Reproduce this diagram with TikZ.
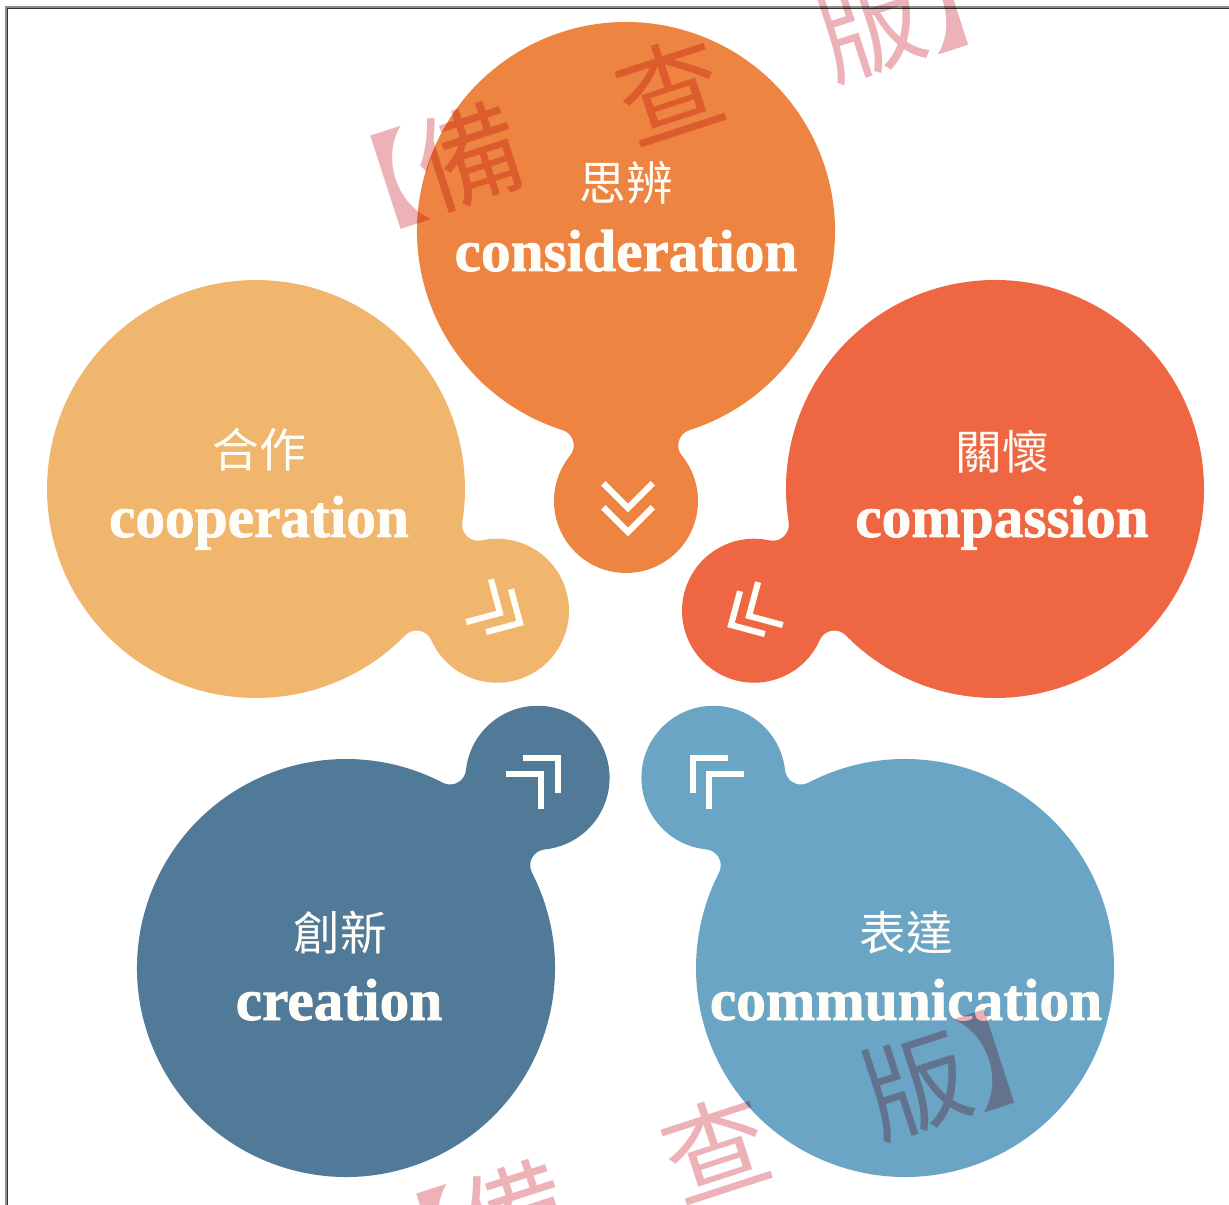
\documentclass[tikz,border=0pt]{standalone}
\usepackage{fontspec}
\setmainfont{Liberation Serif}
\newfontfamily\enfont[BoldFeatures={FakeBold=1.3}]{Liberation Serif}
\newfontfamily\cjk{Noto Sans CJK TC}
\usetikzlibrary{calc}
\definecolor{cTop}{RGB}{238,132,65}
\definecolor{cLeft}{RGB}{240,182,110}
\definecolor{cRight}{RGB}{238,102,66}
\definecolor{cBL}{RGB}{81,121,152}
\definecolor{cBR}{RGB}{107,165,197}
\definecolor{wmcol}{RGB}{236,178,184}
\definecolor{txtcol}{RGB}{255,253,248}
\definecolor{framedark}{RGB}{50,50,50}
\definecolor{framelight}{RGB}{140,140,140}
% blob: big circle (R=209) + small circle (r=72, d=270) joined by fillets (f=16)
\newcommand{\myblob}[4]{%
  \fill[#4] ($(#1,#2)+({#3+17.65}:209)$)
    arc[start angle={#3+17.65}, end angle={#3+342.35}, radius=209]
    arc[start angle={#3+162.35}, end angle={#3+50.83}, radius=16]
    arc[start angle={#3-129.17}, end angle={#3+129.17}, radius=72]
    arc[start angle={#3-50.83}, end angle={#3-162.35}, radius=16] -- cycle;}
\newcommand{\mychev}[3]{%
  \draw[chev] ($(#1,#2)+({#3+135}:35)$) -- (#1,#2) -- ($(#1,#2)+({#3-135}:35)$);}
\tikzset{
  chev/.style={draw=txtcol, line width=4.6pt, line cap=butt, line join=miter},
  entxt/.style={text=txtcol, anchor=base, inner sep=0pt, font=\enfont\bfseries\fontsize{44.5}{44.5}\selectfont},
  zhtxt/.style={text=txtcol, anchor=center, inner sep=0pt, font=\cjk\fontsize{35}{35}\selectfont},
  wmk/.style={text=wmcol, inner sep=0pt, rotate=18, font=\cjk\fontsize{79}{79}\selectfont}
}
\begin{document}
\begin{tikzpicture}[x=0.75pt, y=-0.75pt]
\useasboundingbox (0,0) rectangle (1229,1205);
\fill[white] (0,0) rectangle (1229,1205);
% frame
\draw[framelight, line width=0.8pt] (6,1205) -- (6,7) -- (1229,7);
\draw[framedark, line width=1pt] (7.6,1205) -- (7.6,8.6) -- (1229,8.6);
% blobs
\myblob{626}{231}{90}{cTop}
\myblob{256}{489}{26.8}{cLeft}
\myblob{995}{489}{153.2}{cRight}
\myblob{346}{968}{-44.8}{cBL}
\myblob{905}{968}{-135.2}{cBR}
% chevrons
\mychev{628}{532}{90}\mychev{628}{508}{90}
\mychev{520}{623}{30}\mychev{500}{613}{30}
\mychev{731}{625}{150}\mychev{749}{616}{150}
\mychev{558}{758}{-45}\mychev{541}{774}{-45}
\mychev{693}{758}{-135}\mychev{709}{774}{-135}
% labels
\node[zhtxt] (zh-top) at (626,183) {思辨};
\node[entxt] (en-top) at (626,271) {consideration};
\node[zhtxt] (zh-left) at (259,450) {合作};
\node[entxt] (en-left) at (259,537) {cooperation};
\node[zhtxt] (zh-right) at (1002,452) {關懷};
\node[entxt] (en-right) at (1002,537) {compassion};
\node[zhtxt] (zh-bl) at (340,933) {創新};
\node[entxt] (en-bl) at (339,1020) {creation};
\node[zhtxt] (zh-br) at (906,933) {表達};
\node[entxt] (en-br) at (906,1020) {communication};
% watermark
\begin{scope}[blend mode=multiply]
\node[wmk] (wm-top) at (670,91) {【備　查　版】};
\node[wmk] (wm-bottom) at (716,1149) {【備　查　版】};
\end{scope}
\end{tikzpicture}
\end{document}
